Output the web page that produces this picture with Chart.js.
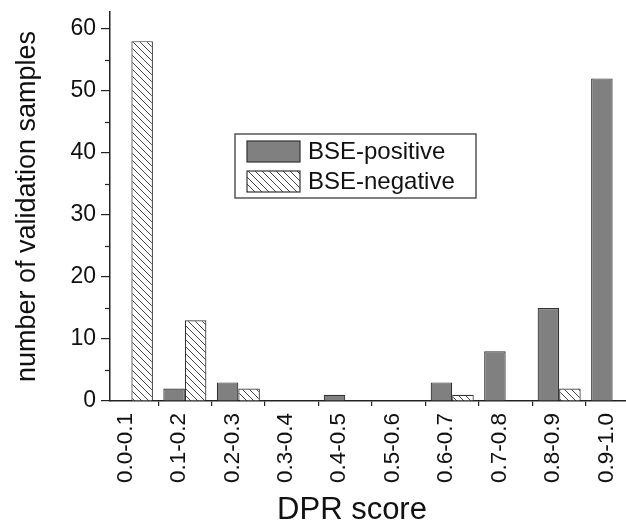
<!DOCTYPE html>
<html>
<head>
<meta charset="utf-8">
<title>DPR score</title>
<script src="https://cdn.jsdelivr.net/npm/chart.js@4/dist/chart.umd.min.js"></script>
<style>
html, body { margin: 0; padding: 0; background: #fff; overflow: hidden; }
canvas { display: block; }
</style>
</head>
<body>
<canvas id="chart" width="626" height="524"></canvas>
<script>
'use strict';

const dprLabels = [
    '0.0-0.1', '0.1-0.2', '0.2-0.3', '0.3-0.4', '0.4-0.5',
    '0.5-0.6', '0.6-0.7', '0.7-0.8', '0.8-0.9', '0.9-1.0',
];
const bsePositive = [ 0, 2, 3, 0, 1, 0, 3, 8, 15, 52 ];
const bseNegative = [ 58, 13, 2, 0, 0, 0, 1, 0, 2, 0 ];
const seriesNames = [ 'BSE-positive', 'BSE-negative' ];

const FONT = '"Liberation Sans", Arial, sans-serif';
const INK = '#222';

/**
 * 右下がりの斜線パターンを作る
 */
function
makeHatch(size, color)
{
    const c = document.createElement('canvas');
    c.width = size;
    c.height = size;
    const g = c.getContext('2d');
    g.fillStyle = '#fff';
    g.fillRect(0, 0, size, size);
    g.strokeStyle = color;
    g.lineWidth = 1;
    g.beginPath();
    g.moveTo(-1, -1);
    g.lineTo(size + 1, size + 1);
    g.moveTo(-1, size - 1);
    g.lineTo(1, size + 1);
    g.moveTo(size - 1, -1);
    g.lineTo(size + 1, 1);
    g.stroke();
    return g.createPattern(c, 'repeat');
}

const hatch = makeHatch(7, '#444');

function
toPoints(values)
{
    return values.map((v, i) => ({ x: i + 1, y: v }));
}

// 短い副目盛り (5, 15, ...) を描く
const minorTicks = {
    id: 'minorTicks',
    afterDraw(chart) {
        const { ctx, chartArea, scales } = chart;
        const y = scales.y;
        ctx.save();
        ctx.strokeStyle = INK;
        ctx.lineWidth = 1.2;
        y.ticks.filter(t => t.value % 10 !== 0).forEach(t => {
            const py = Math.round(y.getPixelForValue(t.value)) + 0.5;
            ctx.beginPath();
            ctx.moveTo(chartArea.left - 5, py);
            ctx.lineTo(chartArea.left, py);
            ctx.stroke();
        });
        ctx.restore();
    },
};

// 凡例 (枠つき、プロット内)
const boxLegend = {
    id: 'boxLegend',
    afterDraw(chart, args, opts) {
        const { ctx } = chart;
        ctx.save();
        ctx.strokeStyle = '#555';
        ctx.lineWidth = 1.5;
        ctx.fillStyle = '#fff';
        ctx.fillRect(opts.x, opts.y, opts.w, opts.h);
        ctx.strokeRect(opts.x, opts.y, opts.w, opts.h);
        ctx.font = `24px ${FONT}`;
        ctx.textBaseline = 'middle';
        chart.data.datasets.forEach((ds, i) => {
            const sy = opts.y + 7 + i * 30;
            ctx.fillStyle = ds.backgroundColor;
            ctx.fillRect(opts.x + 12, sy, 53, 21);
            ctx.strokeStyle = '#333';
            ctx.lineWidth = 1.2;
            ctx.strokeRect(opts.x + 12, sy, 53, 21);
            ctx.fillStyle = '#111';
            ctx.fillText(ds.label, opts.x + 73, sy + 11);
        });
        ctx.restore();
    },
};

// x 軸タイトル
const xTitle = {
    id: 'xTitle',
    afterDraw(chart, args, opts) {
        const { ctx } = chart;
        ctx.save();
        ctx.font = `31px ${FONT}`;
        ctx.fillStyle = '#111';
        ctx.textAlign = 'center';
        ctx.textBaseline = 'middle';
        ctx.fillText(opts.text, opts.x, opts.y);
        ctx.restore();
    },
};

function
drawChart(canvas)
{
    return new Chart(canvas, {
        type: 'bar',
        data: {
            datasets: [
                {
                    label: seriesNames[0],
                    data: toPoints(bsePositive),
                    backgroundColor: '#808080',
                    borderColor: '#333',
                    borderWidth: 1.2,
                },
                {
                    label: seriesNames[1],
                    data: toPoints(bseNegative),
                    backgroundColor: hatch,
                    borderColor: '#333',
                    borderWidth: 1.2,
                },
            ],
        },
        options: {
            responsive: false,
            animation: false,
            devicePixelRatio: 1,
            categoryPercentage: 0.805,
            barPercentage: 1,
            layout: { padding: { top: 12, right: 0, left: 0, bottom: 0 } },
            plugins: {
                legend: { display: false },
                tooltip: { enabled: false },
                boxLegend: { x: 235, y: 134, w: 241, h: 64 },
                xTitle: { text: 'DPR score', x: 352, y: 510 },
            },
            scales: {
                x: {
                    type: 'linear',
                    offset: false,
                    min: 0.6,
                    max: 10.25,
                    afterBuildTicks: scale => {
                        scale.ticks = dprLabels.map((_, i) => ({ value: i + 1 }));
                    },
                    afterFit: scale => {
                        scale.height = 123;
                        scale.paddingLeft = 0;
                        scale.paddingRight = 0;
                    },
                    ticks: {
                        autoSkip: false,
                        minRotation: 90,
                        maxRotation: 90,
                        padding: 7,
                        labelOffset: -6,
                        color: '#111',
                        font: { family: FONT, size: 22.5 },
                        callback: v => dprLabels[v - 1],
                    },
                    grid: {
                        offset: true,
                        drawOnChartArea: false,
                        tickLength: 5,
                        color: INK,
                        lineWidth: 1.2,
                    },
                    border: { display: true, color: INK, width: 1.5 },
                },
                y: {
                    min: 0,
                    max: 62.7,
                    afterFit: scale => {
                        scale.width = 110;
                        scale.paddingTop = 0;
                        scale.paddingBottom = 0;
                    },
                    ticks: {
                        stepSize: 5,
                        includeBounds: false,
                        padding: 5,
                        color: '#111',
                        font: { family: FONT, size: 23 },
                        callback: v => (v % 10 === 0 ? v : ''),
                    },
                    grid: {
                        drawOnChartArea: false,
                        tickLength: 9,
                        lineWidth: 1.2,
                        color: c => (c.tick && c.tick.value % 10 === 0 ? INK : 'rgba(0,0,0,0)'),
                    },
                    border: { display: true, color: INK, width: 1.5 },
                    title: {
                        display: true,
                        text: 'number of validation samples',
                        color: '#111',
                        font: { family: FONT, size: 27 },
                        padding: { top: 11, bottom: 0 },
                    },
                },
            },
        },
        plugins: [ minorTicks, boxLegend, xTitle ],
    });
}

drawChart(document.getElementById('chart'));
</script>
</body>
</html>
